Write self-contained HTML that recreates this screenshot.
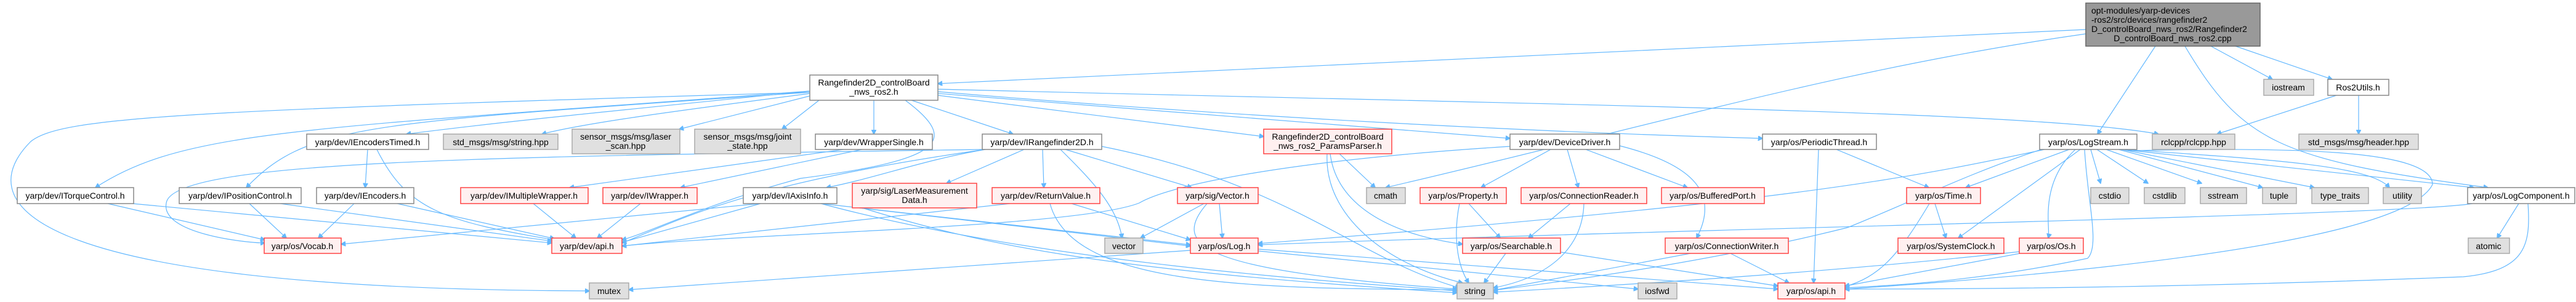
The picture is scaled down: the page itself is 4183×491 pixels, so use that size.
<!DOCTYPE html>
<html><head><meta charset="utf-8"><style>
html,body{margin:0;padding:0;background:#fff;}
svg{display:block;}
text{font-family:"Liberation Sans",sans-serif;font-size:14px;fill:#000;}
.w{fill:#fff;stroke:#888;stroke-width:1.5}
.g{fill:#e0e0e0;stroke:#aaa;stroke-width:1.5}
.r{fill:#fff0f0;stroke:#f44;stroke-width:1.5}
.k{fill:#999;stroke:#666;stroke-width:1.5}
path{fill:none;stroke:#63b8ff;stroke-width:1.2;marker-end:url(#a)}
</style></head><body>
<svg width="4183" height="491" viewBox="0 0 4183 491" xmlns="http://www.w3.org/2000/svg">
<defs><marker id="a" viewBox="0 0 10 10" refX="9" refY="5" markerWidth="8" markerHeight="8" orient="auto" markerUnits="userSpaceOnUse"><path d="M0,0 L10,5 L0,10 z" style="fill:#63b8ff;stroke:#63b8ff;marker-end:none"/></marker></defs>

<path d="M3387,48 L1523,136"/>
<path d="M3387,55 C3000,110 2700,200 2250,305"/>
<path d="M3500,75 L3406,218"/>
<path d="M3590,75 L3690,129"/>
<path d="M3630,75 L3787,129"/>
<path d="M3548,75 C3640,230 3700,260 4040,305"/>
<path d="M3794,155 L3600,218"/>
<path d="M3830,155 L3830,218"/>
<path d="M1315,148 C500,210 300,210 155,305"/>
<path d="M1315,150 C600,200 500,200 400,305"/>
<path d="M1315,148 C900,190 800,200 660,218"/>
<path d="M1315,152 C1100,180 950,200 880,218"/>
<path d="M1315,156 L1103,210"/>
<path d="M1330,163 L1270,210"/>
<path d="M1419,163 L1419,218"/>
<path d="M1480,163 L1645,218"/>
<path d="M1523,155 L2052,222"/>
<path d="M1523,152 L2452,225"/>
<path d="M1523,149 C2000,190 2500,215 2862,225"/>
<path d="M1523,145 C2500,170 3300,180 3505,218"/>
<path d="M1315,150 C300,180 100,190 50,230 C-40,320 0,470 957,473"/>
<path d="M1470,163 C1560,230 1530,260 1300,290 C1150,330 1050,380 1010,390"/>
<path d="M1595,243 C800,255 280,260 270,330 C260,380 400,395 430,395"/>
<path d="M597,243 L593,305"/>
<path d="M612,243 C660,340 720,360 900,390"/>
<path d="M175,331 L430,390"/>
<path d="M215,331 L896,395"/>
<path d="M405,331 L465,387"/>
<path d="M455,331 L896,392"/>
<path d="M575,331 L517,387"/>
<path d="M645,331 L900,388"/>
<path d="M866,331 L935,387"/>
<path d="M1040,331 L970,387"/>
<path d="M1370,243 L925,305"/>
<path d="M1400,243 L1105,305"/>
<path d="M1234,331 L554,397"/>
<path d="M1235,331 L1010,394"/>
<path d="M1333,331 L1933,398"/>
<path d="M1333,331 C1700,430 2200,460 2366,473"/>
<path d="M1663,243 L1537,298"/>
<path d="M1693,243 L1695,305"/>
<path d="M1722,243 C1780,300 1815,340 1822,387"/>
<path d="M1730,243 L1935,305"/>
<path d="M1789,238 C2100,300 2200,420 2370,468"/>
<path d="M1600,243 C1500,260 1420,290 1342,305"/>
<path d="M1600,243 C1200,300 1100,360 1010,395"/>
<path d="M1395,338 L1933,400"/>
<path d="M1400,338 C1600,400 1800,440 2366,476"/>
<path d="M1640,331 L1010,400"/>
<path d="M1740,331 L1933,390"/>
<path d="M1705,331 C1740,460 2000,470 2366,471"/>
<path d="M1955,331 L1852,387"/>
<path d="M1980,331 L1985,387"/>
<path d="M1960,331 C1900,400 1950,440 2366,470"/>
<path d="M2175,250 L2233,305"/>
<path d="M2155,250 C2150,350 2250,430 2375,460"/>
<path d="M2160,250 C2170,330 2250,380 2375,397"/>
<path d="M2452,238 C2100,260 1900,300 1850,330 C1750,370 1200,380 1010,400"/>
<path d="M2518,243 L2405,305"/>
<path d="M2545,243 L2563,305"/>
<path d="M2575,243 L2740,305"/>
<path d="M2630,237 C2760,270 2790,320 2755,387"/>
<path d="M2370,331 C2360,380 2365,430 2385,460"/>
<path d="M2385,331 L2436,387"/>
<path d="M2550,331 L2482,387"/>
<path d="M2572,331 C2570,400 2520,450 2425,468"/>
<path d="M2445,412 L2410,460"/>
<path d="M2535,410 L2887,465"/>
<path d="M2745,412 L2425,472"/>
<path d="M2810,412 L2905,460"/>
<path d="M1933,407 C1500,440 1200,460 1021,471"/>
<path d="M2043,408 L2660,470"/>
<path d="M2043,405 L2887,470"/>
<path d="M2953,243 L2945,460"/>
<path d="M2982,243 L3132,305"/>
<path d="M3360,243 L3192,305"/>
<path d="M3378,243 L3180,387"/>
<path d="M3370,243 C3310,300 3330,370 3326,387"/>
<path d="M3395,243 L3411,298"/>
<path d="M3405,243 L3488,298"/>
<path d="M3420,243 L3575,298"/>
<path d="M3440,243 L3674,305"/>
<path d="M3445,243 L3758,305"/>
<path d="M3450,243 C3700,260 3850,270 3880,305"/>
<path d="M3445,243 L4017,305"/>
<path d="M3455,245 C3700,240 3950,240 3950,300 C3900,400 3300,450 2996,470"/>
<path d="M3385,243 C3390,330 3410,400 3390,420 C3200,460 3050,465 2996,468"/>
<path d="M3315,243 C3200,280 3100,330 3000,370 C2800,420 2600,450 2425,472"/>
<path d="M3320,243 C3100,290 2900,330 2043,396"/>
<path d="M3142,331 L3160,387"/>
<path d="M3133,331 C3080,420 3050,450 2996,466"/>
<path d="M3280,412 L2996,465"/>
<path d="M3290,408 C3000,440 2700,460 2425,475"/>
<path d="M4090,331 L4055,387"/>
<path d="M4105,331 C4110,400 4100,440 4000,450 C3500,470 3100,470 2996,470"/>
<path d="M4015,331 C3900,350 2800,370 2043,398"/>

<rect class="k" x="3387" y="5" width="283" height="70"/>
<text x="3396" y="22">opt-modules/yarp-devices</text>
<text x="3396" y="37">-ros2/src/devices/rangefinder2</text>
<text x="3396" y="52">D_controlBoard_nws_ros2/Rangefinder2</text>
<text x="3528" y="67" text-anchor="middle">D_controlBoard_nws_ros2.cpp</text>

<rect class="w" x="1315" y="122" width="208" height="41"/>
<text x="1419" y="139" text-anchor="middle">Rangefinder2D_controlBoard</text>
<text x="1419" y="154" text-anchor="middle">_nws_ros2.h</text>

<rect class="g" x="3676" y="129" width="81" height="26"/><text x="3716" y="147" text-anchor="middle">iostream</text>
<rect class="w" x="3780" y="129" width="99" height="26"/><text x="3829" y="147" text-anchor="middle">Ros2Utils.h</text>

<rect class="w" x="498" y="218" width="198" height="25"/><text x="597" y="236" text-anchor="middle">yarp/dev/IEncodersTimed.h</text>
<rect class="g" x="720" y="218" width="186" height="25"/><text x="813" y="236" text-anchor="middle">std_msgs/msg/string.hpp</text>
<rect class="g" x="929" y="210" width="175" height="40"/><text x="1016" y="227" text-anchor="middle">sensor_msgs/msg/laser</text><text x="1016" y="242" text-anchor="middle">_scan.hpp</text>
<rect class="g" x="1128" y="210" width="172" height="40"/><text x="1214" y="227" text-anchor="middle">sensor_msgs/msg/joint</text><text x="1214" y="242" text-anchor="middle">_state.hpp</text>
<rect class="w" x="1324" y="218" width="190" height="25"/><text x="1419" y="236" text-anchor="middle">yarp/dev/WrapperSingle.h</text>
<rect class="w" x="1595" y="218" width="194" height="25"/><text x="1692" y="236" text-anchor="middle">yarp/dev/IRangefinder2D.h</text>
<rect class="r" x="2052" y="210" width="208" height="40"/><text x="2156" y="227" text-anchor="middle">Rangefinder2D_controlBoard</text><text x="2156" y="242" text-anchor="middle">_nws_ros2_ParamsParser.h</text>
<rect class="w" x="2452" y="218" width="178" height="25"/><text x="2541" y="236" text-anchor="middle">yarp/dev/DeviceDriver.h</text>
<rect class="w" x="2862" y="218" width="185" height="25"/><text x="2954" y="236" text-anchor="middle">yarp/os/PeriodicThread.h</text>
<rect class="w" x="3312" y="218" width="158" height="25"/><text x="3391" y="236" text-anchor="middle">yarp/os/LogStream.h</text>
<rect class="g" x="3495" y="218" width="134" height="25"/><text x="3562" y="236" text-anchor="middle">rclcpp/rclcpp.hpp</text>
<rect class="g" x="3733" y="218" width="194" height="25"/><text x="3830" y="236" text-anchor="middle">std_msgs/msg/header.hpp</text>

<rect class="w" x="28" y="305" width="189" height="26"/><text x="122" y="323" text-anchor="middle">yarp/dev/ITorqueControl.h</text>
<rect class="w" x="291" y="305" width="198" height="26"/><text x="390" y="323" text-anchor="middle">yarp/dev/IPositionControl.h</text>
<rect class="w" x="514" y="305" width="158" height="26"/><text x="593" y="323" text-anchor="middle">yarp/dev/IEncoders.h</text>
<rect class="r" x="748" y="305" width="207" height="26"/><text x="851" y="323" text-anchor="middle">yarp/dev/IMultipleWrapper.h</text>
<rect class="r" x="979" y="305" width="153" height="26"/><text x="1055" y="323" text-anchor="middle">yarp/dev/IWrapper.h</text>
<rect class="w" x="1207" y="305" width="152" height="26"/><text x="1283" y="323" text-anchor="middle">yarp/dev/IAxisInfo.h</text>
<rect class="r" x="1384" y="298" width="202" height="40"/><text x="1485" y="315" text-anchor="middle">yarp/sig/LaserMeasurement</text><text x="1485" y="330" text-anchor="middle">Data.h</text>
<rect class="r" x="1611" y="305" width="175" height="26"/><text x="1698" y="323" text-anchor="middle">yarp/dev/ReturnValue.h</text>
<rect class="r" x="1912" y="305" width="131" height="26"/><text x="1977" y="323" text-anchor="middle">yarp/sig/Vector.h</text>
<rect class="g" x="2219" y="305" width="63" height="26"/><text x="2250" y="323" text-anchor="middle">cmath</text>
<rect class="r" x="2306" y="305" width="140" height="26"/><text x="2376" y="323" text-anchor="middle">yarp/os/Property.h</text>
<rect class="r" x="2470" y="305" width="204" height="26"/><text x="2572" y="323" text-anchor="middle">yarp/os/ConnectionReader.h</text>
<rect class="r" x="2698" y="305" width="167" height="26"/><text x="2781" y="323" text-anchor="middle">yarp/os/BufferedPort.h</text>
<rect class="r" x="3096" y="305" width="120" height="26"/><text x="3156" y="323" text-anchor="middle">yarp/os/Time.h</text>
<rect class="g" x="3395" y="305" width="62" height="26"/><text x="3426" y="323" text-anchor="middle">cstdio</text>
<rect class="g" x="3482" y="305" width="66" height="26"/><text x="3515" y="323" text-anchor="middle">cstdlib</text>
<rect class="g" x="3573" y="305" width="75" height="26"/><text x="3610" y="323" text-anchor="middle">sstream</text>
<rect class="g" x="3674" y="305" width="55" height="26"/><text x="3701" y="323" text-anchor="middle">tuple</text>
<rect class="g" x="3754" y="305" width="92" height="26"/><text x="3800" y="323" text-anchor="middle">type_traits</text>
<rect class="g" x="3870" y="305" width="62" height="26"/><text x="3901" y="323" text-anchor="middle">utility</text>
<rect class="w" x="4007" y="305" width="174" height="26"/><text x="4094" y="323" text-anchor="middle">yarp/os/LogComponent.h</text>

<rect class="r" x="429" y="387" width="125" height="25"/><text x="491" y="405" text-anchor="middle">yarp/os/Vocab.h</text>
<rect class="r" x="896" y="387" width="114" height="25"/><text x="953" y="405" text-anchor="middle">yarp/dev/api.h</text>
<rect class="g" x="1794" y="387" width="62" height="25"/><text x="1825" y="405" text-anchor="middle">vector</text>
<rect class="r" x="1933" y="387" width="110" height="25"/><text x="1988" y="405" text-anchor="middle">yarp/os/Log.h</text>
<rect class="r" x="2375" y="387" width="159" height="25"/><text x="2454" y="405" text-anchor="middle">yarp/os/Searchable.h</text>
<rect class="r" x="2704" y="387" width="200" height="25"/><text x="2804" y="405" text-anchor="middle">yarp/os/ConnectionWriter.h</text>
<rect class="r" x="3082" y="387" width="172" height="25"/><text x="3168" y="405" text-anchor="middle">yarp/os/SystemClock.h</text>
<rect class="r" x="3279" y="387" width="104" height="25"/><text x="3331" y="405" text-anchor="middle">yarp/os/Os.h</text>
<rect class="g" x="4008" y="387" width="67" height="25"/><text x="4041" y="405" text-anchor="middle">atomic</text>

<rect class="g" x="957" y="460" width="64" height="26"/><text x="989" y="478" text-anchor="middle">mutex</text>
<rect class="g" x="2366" y="460" width="59" height="26"/><text x="2395" y="478" text-anchor="middle">string</text>
<rect class="g" x="2660" y="460" width="63" height="26"/><text x="2691" y="478" text-anchor="middle">iosfwd</text>
<rect class="r" x="2887" y="460" width="109" height="26"/><text x="2941" y="478" text-anchor="middle">yarp/os/api.h</text>
</svg>
</body></html>
